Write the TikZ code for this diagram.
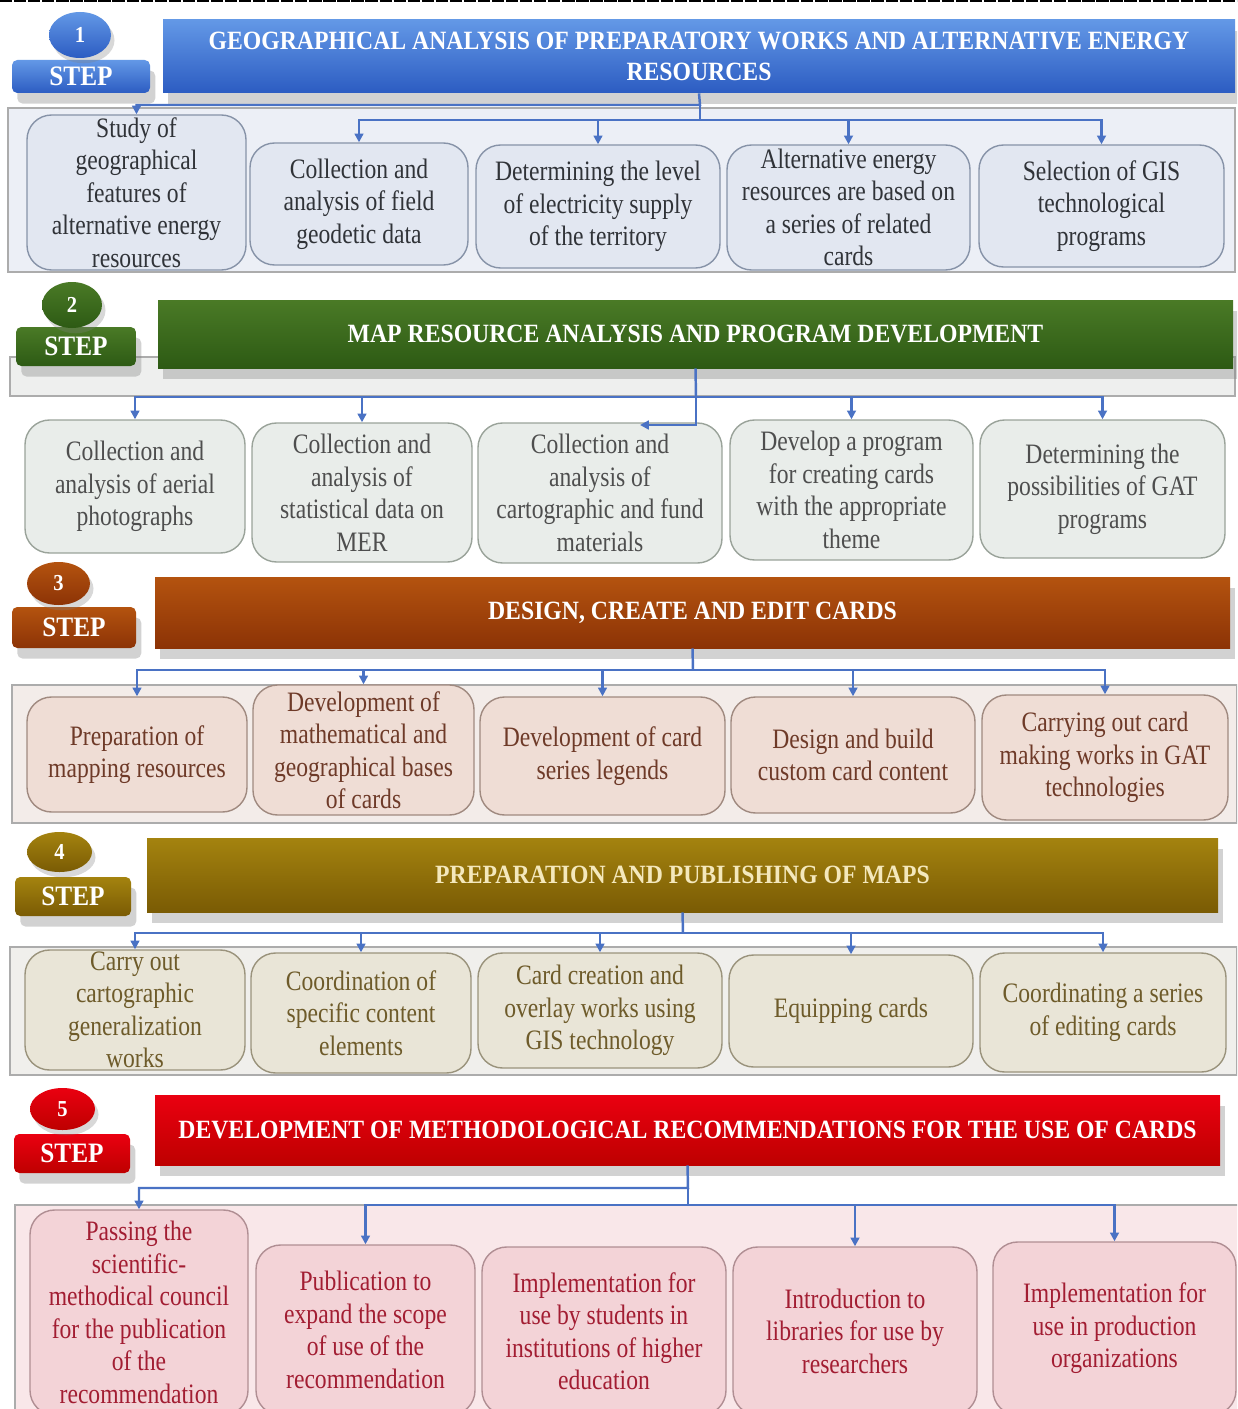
\documentclass[tikz,border=0pt]{standalone}
\usepackage{fontspec}
\setmainfont{Liberation Serif}[FakeStretch=0.84]
\newfontfamily\headfont{Liberation Serif}[FakeStretch=0.9]
\usepackage{tikz}
\usetikzlibrary{arrows.meta,shadows,shapes.geometric}
\definecolor{linkblue}{HTML}{4A72C4}
\definecolor{topA}{HTML}{6398E6}
\definecolor{botA}{HTML}{2C5CC2}
\definecolor{boxA}{HTML}{E2E7F1}
\definecolor{edgeA}{HTML}{8793A8}
\definecolor{inkA}{HTML}{303338}
\definecolor{padA}{HTML}{ECEFF6}
\definecolor{topB}{HTML}{4A7A26}
\definecolor{botB}{HTML}{2D5A14}
\definecolor{boxB}{HTML}{E9EDEA}
\definecolor{edgeB}{HTML}{9AA39A}
\definecolor{inkB}{HTML}{4E4E4E}
\definecolor{padB}{HTML}{EEEFEE}
\definecolor{topC}{HTML}{B4530F}
\definecolor{botC}{HTML}{8C3306}
\definecolor{boxC}{HTML}{EFDDD5}
\definecolor{edgeC}{HTML}{A08A80}
\definecolor{inkC}{HTML}{6E3A28}
\definecolor{padC}{HTML}{F3ECE9}
\definecolor{topD}{HTML}{A4830F}
\definecolor{botD}{HTML}{7A5B04}
\definecolor{boxD}{HTML}{E9E5D7}
\definecolor{edgeD}{HTML}{9A937C}
\definecolor{inkD}{HTML}{6E5B2A}
\definecolor{padD}{HTML}{F0EFEC}
\definecolor{creamD}{HTML}{F4E8BC}
\definecolor{topE}{HTML}{EA0010}
\definecolor{botE}{HTML}{BE0000}
\definecolor{boxE}{HTML}{F3D3D7}
\definecolor{edgeE}{HTML}{B08E93}
\definecolor{inkE}{HTML}{A21D32}
\definecolor{padE}{HTML}{F9E7E9}
\tikzset{
  cell/.style n args={4}{at={({(#1+#3)/2},{(#2+#4)/2})},
    minimum width={(#3-#1)*0.02cm}, minimum height={(#4-#2)*0.02cm}},
  bar/.style={inner sep=0pt, align=center, text=white,
    font=\headfont\bfseries\fontsize{15}{17.6}\selectfont,
    drop shadow={shadow xshift=3pt, shadow yshift=-6pt, opacity=0.35}},
  stepbox/.style={bar, rounded corners=3pt, font=\headfont\bfseries\fontsize{16}{19}\selectfont},
  num/.style={ellipse, inner sep=0pt, text=white, font=\headfont\bfseries\fontsize{13}{15}\selectfont,
    drop shadow={shadow xshift=2pt, shadow yshift=-3pt, opacity=0.3}},
  panel/.style={draw=gray!65, line width=0.8pt, inner sep=0pt},
  card/.style={draw, rounded corners=14pt, line width=0.8pt, align=center, inner sep=0pt,
    font=\fontsize{16}{18.5}\selectfont},
  cA/.style={fill=boxA, draw=edgeA, text=inkA},
  cB/.style={fill=boxB, draw=edgeB, text=inkB},
  cC/.style={fill=boxC, draw=edgeC, text=inkC},
  cD/.style={fill=boxD, draw=edgeD, text=inkD},
  cE/.style={fill=boxE, draw=edgeE, text=inkE},
  trunk/.style={draw=linkblue, line width=1.4pt},
  link/.style={trunk, -{Triangle[length=5pt,width=5pt]}},
}
\begin{document}
\begin{tikzpicture}[x=0.02cm, y=-0.02cm]
  \clip (0,0) rectangle (1237,1409);
  \fill[white] (0,0) rectangle (1237,1409);
  \draw[black, line width=1.5pt, dash pattern=on 7pt off 1pt] (0,1) -- (1237,1);

  \node[panel, fill=padA, cell={8}{108}{1235}{272}] (p1) {};
  \node[stepbox, top color=topA, bottom color=botA, cell={12}{60}{150}{93}] (s1) {STEP};
  \node[num, top color=topA, bottom color=botA, cell={49}{12}{111}{58}] (n1) {1};
  \node[bar, top color=topA, bottom color=botA, cell={163}{20}{1235}{93}] (t1)
    {GEOGRAPHICAL ANALYSIS OF PREPARATORY WORKS AND ALTERNATIVE ENERGY\\RESOURCES};
  \foreach \n/\xa/\ya/\xb/\yb/\txt in {
      b11/27/115/246/270/{Study of\\geographical\\features of\\alternative energy\\resources},
      b12/250/143/468/265/{Collection and\\analysis of field\\geodetic data},
      b13/476/145/720/268/{Determining the level\\of electricity supply\\of the territory},
      b14/727/145/970/270/{Alternative energy\\resources are based on\\a series of related\\cards},
      b15/979/145/1224/267/{Selection of GIS\\technological\\programs}}
    \node[card, cA, cell={\xa}{\ya}{\xb}{\yb}] (\n) {\txt};

  \node[panel, fill=padB, cell={10}{357}{1235}{396}] (p2) {};
  \node[stepbox, top color=topB, bottom color=botB, cell={16}{327}{136}{366}] (s2) {STEP};
  \node[num, top color=topB, bottom color=botB, cell={42}{282}{102}{328}] (n2) {2};
  \node[bar, top color=topB, bottom color=botB, cell={158}{300}{1233}{368}] (t2)
    {MAP RESOURCE ANALYSIS AND PROGRAM DEVELOPMENT};
  \foreach \n/\xa/\ya/\xb/\yb/\txt in {
      b21/25/420/245/553/{Collection and\\analysis of aerial\\photographs},
      b22/252/423/472/562/{Collection and\\analysis of\\statistical data on\\MER},
      b23/478/423/722/563/{Collection and\\analysis of\\cartographic and fund\\materials},
      b24/730/420/973/560/{Develop a program\\for creating cards\\with the appropriate\\theme},
      b25/980/420/1225/558/{Determining the\\possibilities of GAT\\programs}}
    \node[card, cB, cell={\xa}{\ya}{\xb}{\yb}] (\n) {\txt};

  \node[panel, fill=padC, cell={12}{685}{1237}{823}] (p3) {};
  \node[stepbox, top color=topC, bottom color=botC, cell={12}{607}{136}{648}] (s3) {STEP};
  \node[num, top color=topC, bottom color=botC, cell={27}{562}{90}{605}] (n3) {3};
  \node[bar, top color=topC, bottom color=botC, cell={155}{577}{1230}{648}] (t3)
    {DESIGN, CREATE AND EDIT CARDS};
  \foreach \n/\xa/\ya/\xb/\yb/\txt in {
      b31/27/697/247/812/{Preparation of\\mapping resources},
      b32/253/685/474/815/{Development of\\mathematical and\\geographical bases\\of cards},
      b33/480/697/725/815/{Development of card\\series legends},
      b34/731/697/975/813/{Design and build\\custom card content},
      b35/982/695/1228/820/{Carrying out card\\making works in GAT\\technologies}}
    \node[card, cC, cell={\xa}{\ya}{\xb}{\yb}] (\n) {\txt};

  \node[panel, fill=padD, cell={10}{947}{1237}{1075}] (p4) {};
  \node[stepbox, top color=topD, bottom color=botD, cell={15}{877}{131}{916}] (s4) {STEP};
  \node[num, top color=topD, bottom color=botD, cell={27}{832}{92}{872}] (n4) {4};
  \node[bar, top color=topD, bottom color=botD, text=creamD, cell={147}{838}{1218}{912}] (t4)
    {PREPARATION AND PUBLISHING OF MAPS};
  \foreach \n/\xa/\ya/\xb/\yb/\txt in {
      b41/25/950/245/1070/{Carry out\\cartographic\\generalization\\works},
      b42/251/953/471/1073/{Coordination of\\specific content\\elements},
      b43/478/953/722/1068/{Card creation and\\overlay works using\\GIS technology},
      b44/729/955/973/1067/{Equipping cards},
      b45/980/953/1226/1072/{Coordinating a series\\of editing cards}}
    \node[card, cD, cell={\xa}{\ya}{\xb}{\yb}] (\n) {\txt};

  \node[panel, fill=padE, cell={15}{1205}{1240}{1425}] (p5) {};
  \node[stepbox, top color=topE, bottom color=botE, cell={14}{1134}{130}{1173}] (s5) {STEP};
  \node[num, top color=topE, bottom color=botE, cell={30}{1088}{95}{1130}] (n5) {5};
  \node[bar, top color=topE, bottom color=botE, cell={155}{1095}{1220}{1165}] (t5)
    {DEVELOPMENT OF METHODOLOGICAL RECOMMENDATIONS FOR THE USE OF CARDS};
  \foreach \n/\xa/\ya/\xb/\yb/\txt in {
      b51/30/1210/248/1415/{Passing the\\scientific-\\methodical council\\for the publication\\of the\\recommendation},
      b52/256/1245/475/1415/{Publication to\\expand the scope\\of use of the\\recommendation},
      b53/482/1247/726/1415/{Implementation for\\use by students in\\institutions of higher\\education},
      b54/733/1247/977/1415/{Introduction to\\libraries for use by\\researchers},
      b55/993/1242/1236/1415/{Implementation for\\use in production\\organizations}}
    \node[card, cE, cell={\xa}{\ya}{\xb}{\yb}] (\n) {\txt};

  \coordinate (j1) at (700,105);
  \coordinate (k1) at (700,120);
  \draw[link] (t1.south) -- (j1) -| (b11.north);
  \draw[trunk] (j1) -- (k1);
  \foreach \b in {b12,b13,b14,b15}
    \draw[link] (k1) -| (\b.north);

  \coordinate (j2) at (696,397);
  \coordinate (e23) at (640,425);
  \draw[trunk] (t2.south) -- (j2);
  \foreach \b in {b21,b22,b24,b25}
    \draw[link] (j2) -| (\b.north);
  \draw[link] (j2) |- (e23);

  \coordinate (j3) at (693,670);
  \draw[trunk] (t3.south) -- (j3);
  \foreach \b in {b31,b32,b33,b34,b35}
    \draw[link] (j3) -| (\b.north);

  \coordinate (j4) at (683,933);
  \draw[trunk] (t4.south) -- (j4);
  \foreach \b in {b41,b42,b43,b44,b45}
    \draw[link] (j4) -| (\b.north);

  \coordinate (j5) at (688,1188);
  \coordinate (k5) at (688,1205);
  \draw[link] (t5.south) -- (j5) -| (b51.north);
  \draw[trunk] (j5) -- (k5);
  \foreach \b in {b52,b54,b55}
    \draw[link] (k5) -| (\b.north);
\end{tikzpicture}
\end{document}
